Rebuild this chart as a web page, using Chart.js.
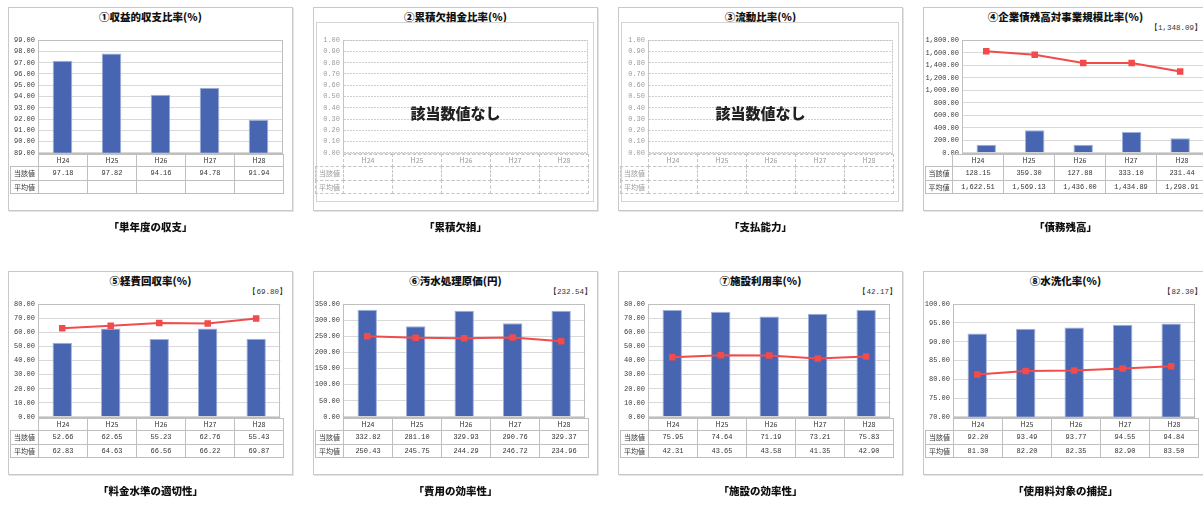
<!DOCTYPE html>
<html><head><meta charset="utf-8">
<script src="https://cdn.jsdelivr.net/npm/chart.js@4.4.1/dist/chart.umd.min.js"></script>
<style>
html,body{margin:0;padding:0;background:#fff;}
body{width:1203px;height:520px;overflow:hidden;position:relative;font-family:"Noto Sans CJK JP",sans-serif;color:#222;}
.box{position:absolute;width:285px;height:204px;border:1px solid #c9c9c9;box-sizing:border-box;background:#fff;box-shadow:1px 1px 0 #e4e4e4;}
.title{position:absolute;left:0;width:283px;top:1px;height:16px;line-height:16px;text-align:center;font-weight:900;font-size:10.5px;color:#111;white-space:nowrap;}
.ann{position:absolute;right:5px;top:14px;height:12px;line-height:12px;font-family:"Liberation Mono",monospace;font-size:7.5px;color:#333;white-space:nowrap;}
.inner{position:absolute;left:2px;top:14px;width:278px;height:180px;border:1px solid #d4d4d4;box-sizing:border-box;}
.cap{position:absolute;width:285px;text-align:center;font-weight:900;font-size:10.5px;height:14px;line-height:14px;color:#111;}
canvas{position:absolute;}
.cell{position:absolute;box-sizing:border-box;border:1px solid #bfbfbf;text-align:center;font-size:7px;color:#333;white-space:nowrap;}
.num{font-family:"Liberation Mono",monospace;}
.nd .cell{border-style:dashed;border-color:#c4c4c4;color:#9a9a9a;}
.nodata{position:absolute;left:0;width:283px;top:95px;height:20px;line-height:20px;text-align:center;font-weight:900;font-size:15px;color:#222;}
</style>
</head><body>
<script>
// ---- data ----
const years = ['H24','H25','H26','H27','H28'];
const rowLabels = ['当該値','平均値'];
const titles = ['①収益的収支比率(%)','②累積欠損金比率(%)','③流動比率(%)','④企業債残高対事業規模比率(%)',
                '⑤経費回収率(%)','⑥汚水処理原価(円)','⑦施設利用率(%)','⑧水洗化率(%)'];
const captions = ['「単年度の収支」','「累積欠損」','「支払能力」','「債務残高」',
                  '「料金水準の適切性」','「費用の効率性」','「施設の効率性」','「使用料対象の捕捉」'];
const nationalAvg = [null,null,null,'【1,348.09】','【69.80】','【232.54】','【42.17】','【82.30】'];
const noDataText = '該当数値なし';

const current1 = [97.18, 97.82, 94.16, 94.78, 91.94];
const average1 = [null, null, null, null, null];
const current4 = [128.15, 359.30, 127.88, 333.10, 231.44];
const average4 = [1622.51, 1569.13, 1436.00, 1434.89, 1298.91];
const current5 = [52.66, 62.65, 55.23, 62.76, 55.43];
const average5 = [62.83, 64.63, 66.56, 66.22, 69.87];
const current6 = [332.82, 281.10, 329.93, 290.76, 329.37];
const average6 = [250.43, 245.75, 244.29, 246.72, 234.96];
const current7 = [75.95, 74.64, 71.19, 73.21, 75.83];
const average7 = [42.31, 43.65, 43.58, 41.35, 42.90];
const current8 = [92.20, 93.49, 93.77, 94.55, 94.84];
const average8 = [81.30, 82.20, 82.35, 82.90, 83.50];

const yMin  = [89, 0, 0, 0, 0, 0, 0, 70];
const yMax  = [99, 1, 1, 1800, 80, 350, 80, 100];
const yStep = [1, 0.1, 0.1, 200, 10, 50, 10, 5];

const currentSeries = [current1, null, null, current4, current5, current6, current7, current8];
const averageSeries = [average1, null, null, average4, average5, average6, average7, average8];

// ---- layout (inner-box pixel coordinates) ----
const boxLefts = [8, 313, 618, 923];
const boxTops = [7, 271];
const plotLeft  = [29, 29, 29, 38, 29, 29, 29, 29];
const plotRight = [274, 274, 274, 283, 274, 274, 274, 274];
const tabLeft   = [29, 29, 29, 28, 29, 29, 29, 29];
const tabRight  = [274, 274, 274, 283, 274, 274, 274, 274];
const plotTop = 31, plotBottom = 146;
const rowH = [12, 14, 13];
const labelLeft = 1;

const fmt = v => Number(v).toLocaleString('en-US', {minimumFractionDigits: 2, maximumFractionDigits: 2});

const framePlugin = {
  id: 'frame',
  afterDraw(chart, args, opts) {
    const a = chart.chartArea, ctx = chart.ctx;
    ctx.save();
    ctx.strokeStyle = opts.color || '#bfbfbf';
    ctx.lineWidth = 1;
    if (opts.dash) ctx.setLineDash(opts.dash);
    ctx.strokeRect(Math.round(a.left) + 0.5, Math.round(a.top) + 0.5, Math.round(a.right - a.left) - 1, Math.round(a.bottom - a.top));
    ctx.restore();
  }
};

function el(tag, cls, parent, css, text) {
  const e = document.createElement(tag);
  if (cls) e.className = cls;
  if (css) Object.assign(e.style, css);
  if (text != null) e.textContent = text;
  parent.appendChild(e);
  return e;
}

for (let i = 0; i < 8; i++) {
  const bx = boxLefts[i % 4], by = boxTops[Math.floor(i / 4)];
  const noData = currentSeries[i] === null;
  const box = el('div', 'box' + (noData ? ' nd' : ''), document.body, {left: bx + 'px', top: by + 'px'});
  el('div', 'title', box, null, titles[i]);
  if (nationalAvg[i]) el('div', 'ann', box, null, nationalAvg[i]);
  if (noData) el('div', 'inner', box);

  // chart canvas
  const cv = el('canvas', null, box);
  const cw = plotRight[i] + 2, ch = (plotBottom - plotTop) + 12;
  cv.width = cw; cv.height = ch;
  Object.assign(cv.style, {left: '0px', top: (plotTop - 6) + 'px', width: cw + 'px', height: ch + 'px'});

  const datasets = [];
  if (!noData) {
    if (averageSeries[i].some(v => v !== null)) {
      datasets.push({type: 'line', data: averageSeries[i], order: 0,
        borderColor: '#F24B4B', borderWidth: 2, backgroundColor: '#F24B4B',
        pointStyle: 'rect', pointRadius: 4.6, pointBorderWidth: 0, pointBackgroundColor: '#F24B4B', tension: 0});
    }
    datasets.push({type: 'bar', data: currentSeries[i], order: 1,
      backgroundColor: '#4765B0', borderColor: '#9fb0dc', borderWidth: {left: 1, right: 1, top: 1, bottom: 0},
      barPercentage: 0.4, categoryPercentage: 1});
  }
  const tickColor = noData ? '#9c9c9c' : '#3a3a3a';
  const yw = plotLeft[i];
  new Chart(cv, {
    type: 'bar',
    data: {labels: years, datasets},
    options: {
      responsive: false, animation: false, devicePixelRatio: 1,
      layout: {padding: {top: 6, bottom: 6, left: 0, right: 2}},
      plugins: {legend: {display: false}, tooltip: {enabled: false}, frame: {color: noData ? '#c4c4c4' : '#bfbfbf', dash: noData ? [2, 1] : null}},
      scales: {
        x: {display: false, offset: true, grid: {display: false}},
        y: {
          min: yMin[i], max: yMax[i],
          afterFit: s => { s.width = yw; },
          ticks: {stepSize: yStep[i], autoSkip: false, padding: 3, color: tickColor,
                  font: {family: 'Liberation Mono', size: 7}, callback: v => fmt(v)},
          grid: {color: noData ? '#cfcfcf' : '#d9d9d9', drawTicks: false, lineWidth: 1},
          border: {display: true, color: noData ? '#c4c4c4' : '#bfbfbf', dash: noData ? [2, 1] : undefined}
        }
      }
    },
    plugins: [framePlugin]
  });

  if (noData) el('div', 'nodata', box, null, noDataText);

  // data table
  const tl = tabLeft[i], colW = (tabRight[i] - tl) / years.length;
  let y = plotBottom;
  const cell = (x0, x1, top, h, cls, text) =>
    el('div', cls, box, {left: Math.round(x0) + 'px', top: top + 'px', width: (Math.round(x1) - Math.round(x0) + 1) + 'px',
                         height: (h + 1) + 'px', lineHeight: (h - 1) + 'px'}, text);
  years.forEach((yr, c) => cell(tl + c * colW, tl + (c + 1) * colW, y, rowH[0], 'cell', yr));
  y += rowH[0];
  const rows = [currentSeries[i], averageSeries[i]];
  rows.forEach((vals, r) => {
    const h = rowH[r + 1];
    cell(labelLeft, tl, y, h, 'cell', rowLabels[r]);
    years.forEach((yr, c) => {
      const v = vals ? vals[c] : null;
      cell(tl + c * colW, tl + (c + 1) * colW, y, h, 'cell num', v === null ? '' : fmt(v));
    });
    y += h;
  });

  el('div', 'cap', document.body, {left: bx + 'px', top: (by + 213) + 'px'}, captions[i]);
}
</script>
</body></html>
